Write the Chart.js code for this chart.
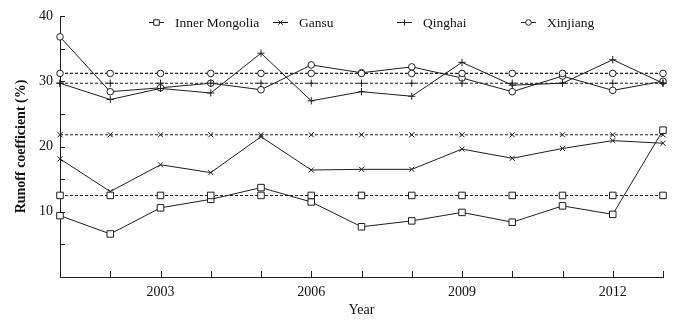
<!DOCTYPE html>
<html>
<head>
<meta charset="utf-8">
<script src="https://cdn.jsdelivr.net/npm/chart.js@4.4.0/dist/chart.umd.min.js"></script>
<style>
  html, body { margin: 0; padding: 0; background: #fff; }
  #wrap { width: 677px; height: 320px; }
</style>
</head>
<body>
<div id="wrap"><canvas id="runoffChart"></canvas></div>
<script>
// data
var years = [2001, 2002, 2003, 2004, 2005, 2006, 2007, 2008, 2009, 2010, 2011, 2012, 2013];
var regions = ['Inner Mongolia', 'Gansu', 'Qinghai', 'Xinjiang'];
var markers = ['rect', 'crossRot', 'cross', 'circle'];
var innerMongolia = [9.4, 6.6, 10.6, 11.9, 13.7, 11.5, 7.7, 8.6, 9.9, 8.4, 10.9, 9.6, 22.5];
var gansu = [18.1, 13.1, 17.2, 16.0, 21.5, 16.4, 16.5, 16.5, 19.6, 18.2, 19.7, 20.9, 20.5];
var qinghai = [29.7, 27.2, 28.9, 28.2, 34.3, 27.0, 28.4, 27.7, 32.9, 29.4, 29.7, 33.3, 29.7];
var xinjiang = [36.8, 28.4, 29.0, 29.7, 28.7, 32.5, 31.3, 32.2, 30.5, 28.4, 30.8, 28.6, 30.0];
var meanValues = [12.5, 21.8, 29.7, 31.2];
var xLabelYears = [2003, 2006, 2009, 2012];
var yLabelValues = [10, 20, 30, 40];

var seriesValues = [innerMongolia, gansu, qinghai, xinjiang];
var ink = '#1e1e1e';
var serif = "'Liberation Serif', 'DejaVu Serif', serif";

function markerSize(style) {
  if (style === 'rect') return 4.6;
  if (style === 'circle') return 3.3;
  return 3.6;
}

var datasets = [];
regions.forEach(function (name, i) {
  // dashed line = mean of the period
  datasets.push({
    label: name + ' mean',
    data: years.map(function (yr) { return { x: yr, y: meanValues[i] }; }),
    borderColor: ink,
    borderWidth: 1.1,
    borderDash: [3, 2],
    pointStyle: markers[i],
    pointRadius: markerSize(markers[i]),
    pointBackgroundColor: '#fff',
    pointBorderColor: ink,
    pointBorderWidth: 1,
    clip: false,
    tension: 0
  });
  datasets.push({
    label: name,
    data: years.map(function (yr, k) { return { x: yr, y: seriesValues[i][k] }; }),
    borderColor: ink,
    borderWidth: 1,
    pointStyle: markers[i],
    pointRadius: markerSize(markers[i]),
    pointBackgroundColor: '#fff',
    pointBorderColor: ink,
    pointBorderWidth: 1,
    clip: false,
    tension: 0
  });
});

// inward tick marks + evenly spaced legend across the top
var axisDecor = {
  id: 'axisDecor',
  afterDraw: function (chart) {
    var ctx = chart.ctx;
    var xs = chart.scales.x, ys = chart.scales.y, area = chart.chartArea;
    ctx.save();
    ctx.strokeStyle = ink;
    ctx.lineWidth = 1;
    ctx.beginPath();
    ys.ticks.forEach(function (t) {
      var py = Math.round(ys.getPixelForValue(t.value)) + 0.5;
      ctx.moveTo(area.left, py);
      ctx.lineTo(area.left + 5, py);
    });
    xs.ticks.forEach(function (t) {
      var px = Math.round(xs.getPixelForValue(t.value)) + 0.5;
      ctx.moveTo(px, area.bottom);
      ctx.lineTo(px, area.bottom - 6);
    });
    ctx.stroke();

    ctx.font = '13.5px ' + serif;
    ctx.textBaseline = 'middle';
    var ly = 22;
    regions.forEach(function (name, i) {
      var lx = area.left + 89 + i * 124;
      ctx.beginPath();
      ctx.setLineDash([]);
      ctx.moveTo(lx, ly + 0.5);
      ctx.lineTo(lx + 15, ly + 0.5);
      ctx.stroke();
      ctx.fillStyle = '#fff';
      ctx.strokeStyle = ink;
      Chart.helpers.drawPoint(ctx, {
        pointStyle: markers[i],
        radius: markerSize(markers[i]) * 0.85,
        borderWidth: 1
      }, lx + 7.5, ly + 0.5);
      ctx.fillStyle = '#111';
      ctx.fillText(name, lx + 26, ly + 1);
    });
    ctx.restore();
  }
};

Chart.defaults.font.family = serif;
Chart.defaults.color = '#111';

var chart = new Chart(document.getElementById('runoffChart'), {
  type: 'line',
  data: { datasets: datasets },
  options: {
    responsive: true,
    maintainAspectRatio: false,
    animation: false,
    layout: { padding: { top: 16, right: 14, left: 0, bottom: 0 } },
    plugins: {
      legend: { display: false },
      tooltip: { enabled: false }
    },
    scales: {
      x: {
        type: 'linear',
        min: 2001,
        max: 2013,
        grid: { display: false, drawTicks: false },
        border: { display: true, color: ink, width: 1 },
        ticks: {
          stepSize: 1,
          autoSkip: false,
          maxRotation: 0,
          padding: 7,
          font: { size: 14 },
          callback: function (v) { return xLabelYears.indexOf(v) >= 0 ? String(v) : ''; }
        },
        title: {
          display: true,
          text: 'Year',
          font: { size: 14 },
          padding: { top: 0, bottom: 1 }
        },
        afterFit: function (scale) { scale.height = 43; }
      },
      y: {
        min: 0,
        max: 40,
        grid: { display: false, drawTicks: false },
        border: { display: true, color: ink, width: 1 },
        ticks: {
          stepSize: 5,
          padding: 7,
          font: { size: 14 },
          callback: function (v) { return yLabelValues.indexOf(v) >= 0 ? String(v) : ''; }
        },
        title: {
          display: true,
          text: 'Runoff coefficient (%)',
          font: { size: 14, weight: 'bold' },
          padding: { top: 13, bottom: 0 }
        },
        afterFit: function (scale) { scale.width = 60; }
      }
    }
  },
  plugins: [axisDecor]
});
</script>
</body>
</html>
